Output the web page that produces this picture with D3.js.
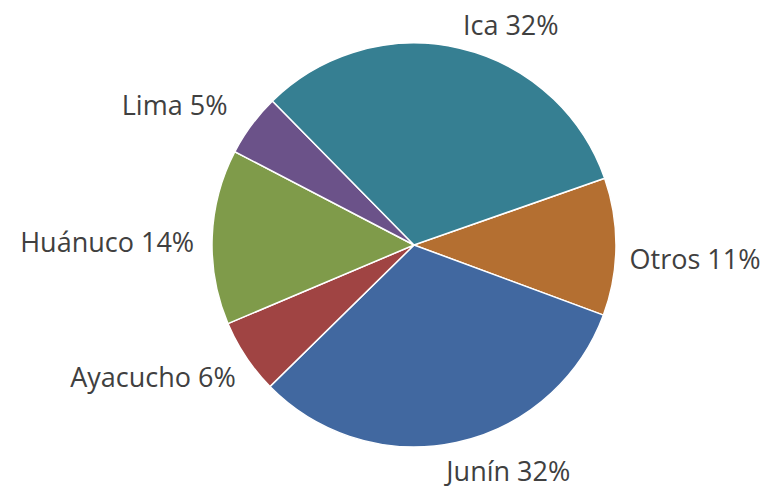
<!DOCTYPE html>
<html>
<head>
<meta charset="utf-8">
<script src="https://cdn.jsdelivr.net/npm/d3@7"></script>
<style>
  body { margin: 0; background: #fff; }
  svg text { font-family: "Open Sans", sans-serif; fill: #404040; }
</style>
</head>
<body>
<svg width="766" height="488"></svg>
<script>
// region shares, clockwise starting from Otros
const regions = ['Otros', 'Junín', 'Ayacucho', 'Huánuco', 'Lima', 'Ica'];
const shares = [11, 32, 6, 14, 5, 32];
const colors = ['#b46f31', '#4168a0', '#a04443', '#7f9b4a', '#6b5289', '#367f92'];

// label nudges from the slice edge midpoint (layout only)
const nudges = [[79, 22], [52, 38], [-93, 30], [-105, 15], [-77, -10], [51, -13]];

let svg = d3.select("svg"),
    cx = 414, cy = 245, radius = 202;

let pie = d3.pie()
    .sort(null)
    .value(function (d) { return d; })
    .startAngle(70.7 * Math.PI / 180)
    .endAngle(70.7 * Math.PI / 180 + 2 * Math.PI);

let arc = d3.arc().innerRadius(0).outerRadius(radius);
let edge = d3.arc().innerRadius(radius).outerRadius(radius);

let g = svg.append("g").attr("transform", "translate(" + cx + "," + cy + ")");
let arcs = pie(shares);

g.selectAll("path")
    .data(arcs)
    .enter().append("path")
    .attr("d", arc)
    .attr("fill", function (d, i) { return colors[i]; })
    .attr("stroke", "#fff")
    .attr("stroke-width", 1.5);

g.selectAll("text")
    .data(arcs)
    .enter().append("text")
    .attr("x", function (d, i) { return edge.centroid(d)[0] + nudges[i][0]; })
    .attr("y", function (d, i) { return edge.centroid(d)[1] + nudges[i][1]; })
    .attr("text-anchor", "middle")
    .style("font-size", "27px")
    .text(function (d, i) { return regions[i] + " " + shares[i] + "%"; });
</script>
</body>
</html>
